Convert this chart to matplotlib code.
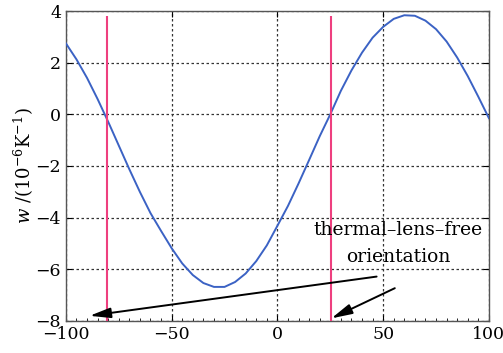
import matplotlib
matplotlib.use("Agg")
import matplotlib.pyplot as plt
from matplotlib.ticker import MultipleLocator

# values
angle = [-100, -95, -90, -85, -80, -75, -70, -65, -60, -55, -50, -45, -40, -35,
         -30, -25, -20, -15, -10, -5, 0, 5, 10, 15, 20, 25, 30, 35, 40, 45,
         50, 55, 60, 65, 70, 75, 80, 85, 90, 95, 100]
w = [2.75, 2.13, 1.41, 0.59, -0.29, -1.21, -2.13, -3.01, -3.83, -4.52, -5.19,
     -5.78, -6.23, -6.54, -6.69, -6.69, -6.5, -6.17, -5.69, -5.08, -4.32, -3.55,
     -2.68, -1.77, -0.85, 0.0, 0.91, 1.7, 2.39, 2.97, 3.39, 3.7, 3.84, 3.82,
     3.63, 3.3, 2.82, 2.2, 1.48, 0.68, -0.15]
free_angles = [-80.8, 25.3]
note = ["thermal\u2013lens\u2013free", "orientation"]

plt.rcParams["font.family"] = "DejaVu Serif"
plt.rcParams["mathtext.fontset"] = "dejavuserif"

fig = plt.figure(figsize=(5.03, 3.53), dpi=100)
ax = fig.add_axes([0.131, 0.0915, 0.841, 0.877])

ax.grid(True, which="major", color="#333333", linestyle=(0, (2, 2)), linewidth=0.9)
ax.plot(angle, w, color="#3b62c4", linewidth=1.4, zorder=3)
ax.vlines(free_angles, -8, 3.8, color="#ee3f7f", linewidth=1.5, zorder=3)

ax.text(57, -4.48, note[0], ha="center", va="center", fontsize=13.5)
ax.text(57, -5.55, note[1], ha="center", va="center", fontsize=13.5)
arrow = dict(arrowstyle="-|>,head_length=0.9,head_width=0.22", color="black",
             lw=1.4, mutation_scale=14, shrinkA=0, shrinkB=0)
ax.annotate("", xy=(-88.8, -7.81), xytext=(46.9, -6.29), arrowprops=arrow)
ax.annotate("", xy=(25.5, -7.91), xytext=(55.5, -6.74), arrowprops=arrow)

ax.set_xlim(-100, 100)
ax.set_ylim(-8, 4)
ax.xaxis.set_major_locator(MultipleLocator(50))
ax.xaxis.set_minor_locator(MultipleLocator(5))
ax.yaxis.set_major_locator(MultipleLocator(2))
ax.tick_params(which="both", direction="in", top=True, right=True, labelsize=12.5)
ax.tick_params(which="major", length=4)
ax.tick_params(which="minor", length=2.5, top=False)
ax.tick_params(axis="y", which="minor", left=False, right=False)
for s in ax.spines.values():
    s.set_color("#555555")
    s.set_linewidth(1.0)

ax.set_ylabel(r"$w$ /(10$^{-6}$K$^{-1}$)", fontsize=13)
ax.yaxis.set_label_coords(-0.07, 0.5)

fig.savefig("out.png", dpi=100)
